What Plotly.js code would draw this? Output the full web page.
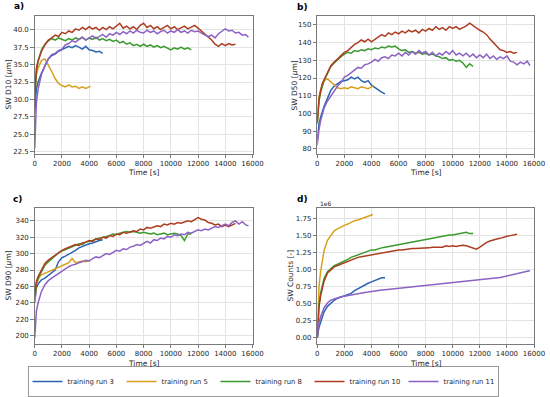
<!DOCTYPE html>
<html>
<head>
<meta charset="utf-8">
<script src="https://cdn.plot.ly/plotly-3.0.1.min.js"></script>
<style>html,body{margin:0;padding:0;background:#fff;}#chart{width:550px;height:397px;}</style>
</head>
<body>
<div id="chart"></div>
<script>
// ---------- DATA ----------
const runNames = ['training run 3', 'training run 5', 'training run 8', 'training run 10', 'training run 11'];
const runColors = ['#2b63b5', '#d7a01d', '#3b9a2f', '#ad3d20', '#8c62c4'];

// time [s] per run
const t3 = [0,50,125,250,375,500,750,1000,1250,1500,1750,2000,2250,2500,2750,3000,3250,3500,3750,4000,4250,4500,4750,5000];
const t5 = [0,50,125,250,375,500,750,1000,1250,1500,1750,2000,2250,2500,2750,3000,3250,3500,3750,4000,4100];
const t8 = [0,50,125,250,375,500,750,1000,1250,1500,1750,2000,2250,2500,2750,3000,3250,3500,3750,4000,4250,4500,4750,5000,5250,5500,5750,6000,6250,6500,6750,7000,7250,7500,7750,8000,8250,8500,8750,9000,9250,9500,9750,10000,10250,10500,10750,11000,11250,11500];
const t10 = [0,50,125,250,375,500,750,1000,1250,1500,1750,2000,2250,2500,2750,3000,3250,3500,3750,4000,4250,4500,4750,5000,5250,5500,5750,6000,6250,6500,6750,7000,7250,7500,7750,8000,8250,8500,8750,9000,9250,9500,9750,10000,10250,10500,10750,11000,11250,11500,11750,12000,12250,12500,12750,13000,13250,13500,13750,14000,14250,14500,14750];
const t11 = [0,50,125,250,375,500,750,1000,1250,1500,1750,2000,2250,2500,2750,3000,3250,3500,3750,4000,4250,4500,4750,5000,5250,5500,5750,6000,6250,6500,6750,7000,7250,7500,7750,8000,8250,8500,8750,9000,9250,9500,9750,10000,10250,10500,10750,11000,11250,11500,11750,12000,12250,12500,12750,13000,13250,13500,13750,14000,14250,14500,14750,15000,15250,15500,15700];

// a) SW D10 [um]
const d10_run3 = [28.0,30.0,31.5,32.5,33.2,33.8,34.8,35.8,36.3,36.5,36.9,37.1,37.3,37.6,37.4,37.7,37.5,37.2,37.6,37.1,37.0,36.8,36.9,36.6];
const d10_run5 = [30.5,32.0,33.5,34.5,35.2,35.6,35.8,35.0,34.0,33.0,32.3,32.0,31.8,32.1,31.8,31.9,31.6,31.8,31.6,31.8,31.9];
const d10_run8 = [30.0,32.0,34.0,35.5,36.5,37.1,37.9,38.4,38.7,38.5,38.8,38.6,38.4,38.7,38.5,38.8,38.6,38.9,38.5,38.8,38.6,38.9,38.5,38.7,38.4,38.6,38.3,38.5,38.1,38.3,37.9,38.1,37.7,37.9,37.6,37.9,37.6,37.8,37.5,37.7,37.4,37.6,37.3,37.1,37.4,37.2,37.5,37.2,37.4,37.1];
const d10_run10 = [30.5,32.5,34.5,35.5,36.3,36.9,37.8,38.5,38.8,39.2,39.0,39.6,39.4,39.8,39.6,40.1,39.9,40.3,40.0,40.4,40.1,40.3,39.9,40.3,40.0,40.4,40.1,40.5,40.9,40.2,40.5,40.1,40.4,40.0,40.6,40.9,40.3,40.6,40.1,40.4,40.0,40.3,40.6,40.1,40.4,40.0,40.3,40.5,40.1,40.4,40.6,40.2,39.8,39.3,38.9,38.5,37.9,37.6,38.0,37.7,38.0,37.8,37.9];
const d10_run11 = [23.0,26.5,29.5,31.5,32.8,33.6,34.8,35.8,36.4,36.6,37.0,37.2,37.8,38.0,38.4,38.2,38.6,38.9,38.5,38.8,39.1,38.7,39.0,39.3,38.9,39.4,39.2,39.6,39.3,39.7,39.4,39.8,39.5,39.9,39.6,39.5,39.9,39.6,39.8,39.4,39.7,39.9,39.5,39.8,39.6,40.0,39.6,39.8,39.5,39.9,39.7,39.8,39.5,39.3,39.0,39.2,38.8,39.4,39.7,40.1,39.8,39.9,39.5,39.6,39.2,39.3,38.9];

// b) SW D50 [um]
const d50_run3 = [85,89,94,98,101,104,108.5,113,115.5,117,118,118.5,119,120.5,119.5,120.5,118.5,117.5,118.5,116,114.5,113,112,111];
const d50_run5 = [96,103,109,113.5,116.5,118.5,119.5,118,116,114.5,114,114.5,114,115,114.5,114,115,114.5,114,115,115.5];
const d50_run8 = [94,100,107,112,116,118.5,122.5,126.5,128.5,130.5,132,133.5,134.5,134,135.5,135,136,135.5,136.5,136,137,136.5,137.5,137,138,137.5,138,136.5,135.5,136,134.5,135,134,134.5,133.5,134,133,133.5,132.5,132,131,131.5,130,130.5,129.5,130,128.5,126,128,126.5];
const d50_run10 = [95,101,108,113,117,119,123,127,129,131,132.5,134.5,135.5,137.5,139,140,141.5,140.5,142,140.5,142,143.5,144.5,143.5,145.5,144.5,146,145,146.5,145.5,147,146,147,145.5,147.5,146.5,148,147,149,147.5,148.5,147,149,148,149,147.5,148.5,149.5,151,149.5,148.5,147,146,144.5,142,140,137.5,136,135.5,134.5,135,134,134.5];
const d50_run11 = [82,86,91,96,100,103,107,110,113,115.5,117.5,120.5,121.5,123,124,126,125.5,127.5,128,129,130.5,129.5,131.5,132,131,133,132.5,134,132.5,134.5,133,135,133.5,135.5,134,135,133,134.5,132.5,134,133,135,133.5,135.5,133,134,132.5,134,132,133.5,131.5,133,131.5,133.5,131,132.5,130.5,132,131,132.5,129.5,129,127.5,129,128,129.5,127];

// c) SW D90 [um]
const d90_run3 = [240,250,258,263,266,268,270,273,276,280,290,295,297,299,301,304,307,309,310,312,313,315,316,317];
const d90_run5 = [240,255,263,268,272,274,276,277,279,281,283,285,287,289,294,289,290,291,290,292,292];
const d90_run8 = [245,255,264,270,274,279,286,290,294,298,301,303,305,307,309,310,312,311,314,315,316,318,319,320,321,322,324,323,325,326,327,326,327,326,325,326,325,324,325,323,324,325,323,324,325,324,322,316,324,324];
const d90_run10 = [248,258,266,272,276,281,288,292,295,299,302,304,306,308,309,311,310,313,314,316,315,318,317,320,319,322,321,324,323,326,325,327,328,327,330,329,332,331,333,334,333,336,335,337,336,338,337,339,340,339,342,344,342,341,338,337,335,336,333,335,333,335,337];
const d90_run11 = [197,215,230,240,248,254,262,267,270,273,276,279,281,284,286,287,289,290,292,291,294,296,295,298,300,299,302,304,303,306,305,308,309,311,310,313,315,313,317,316,319,318,321,320,323,322,324,323,326,325,327,329,328,330,329,331,333,332,334,336,334,338,340,336,339,335,334];

// d) SW Counts [-], in units of 1e6
const cnt_run3 = [0.0,0.08,0.15,0.23,0.31,0.38,0.46,0.51,0.55,0.58,0.60,0.62,0.63,0.65,0.69,0.72,0.75,0.78,0.80,0.82,0.84,0.86,0.88,0.88];
const cnt_run5 = [0.0,0.45,0.75,0.98,1.16,1.28,1.43,1.51,1.57,1.60,1.63,1.65,1.67,1.70,1.72,1.73,1.75,1.77,1.78,1.80,1.81];
const cnt_run8 = [0.0,0.27,0.48,0.66,0.78,0.87,0.97,1.02,1.06,1.08,1.10,1.13,1.15,1.18,1.20,1.22,1.23,1.25,1.27,1.29,1.29,1.31,1.32,1.33,1.34,1.35,1.36,1.37,1.38,1.39,1.40,1.41,1.42,1.43,1.44,1.45,1.46,1.47,1.48,1.48,1.49,1.50,1.51,1.51,1.52,1.53,1.54,1.55,1.53,1.53];
const cnt_run10 = [0.0,0.25,0.45,0.62,0.74,0.83,0.95,1.0,1.04,1.06,1.08,1.11,1.13,1.15,1.17,1.18,1.19,1.20,1.21,1.22,1.23,1.24,1.25,1.26,1.27,1.27,1.28,1.29,1.29,1.30,1.30,1.31,1.31,1.31,1.32,1.31,1.32,1.33,1.33,1.34,1.33,1.35,1.34,1.35,1.34,1.35,1.36,1.35,1.33,1.32,1.30,1.33,1.37,1.40,1.42,1.44,1.45,1.46,1.48,1.49,1.50,1.51,1.52];
const cnt_run11 = [0.0,0.12,0.22,0.31,0.38,0.44,0.51,0.55,0.57,0.59,0.60,0.61,0.62,0.63,0.645,0.655,0.66,0.665,0.67,0.68,0.685,0.69,0.70,0.705,0.71,0.715,0.72,0.73,0.735,0.74,0.745,0.75,0.76,0.765,0.77,0.775,0.78,0.785,0.79,0.79,0.795,0.80,0.805,0.81,0.815,0.82,0.83,0.835,0.84,0.845,0.85,0.85,0.855,0.86,0.87,0.875,0.88,0.885,0.895,0.905,0.915,0.925,0.94,0.95,0.96,0.975,0.985];

// tick labels
const xTicks = [0,2000,4000,6000,8000,10000,12000,14000,16000];
const yTicksA = [22.5,25.0,27.5,30.0,32.5,35.0,37.5,40.0];
const yTicksB = [80,90,100,110,120,130,140,150];
const yTicksC = [200,220,240,260,280,300,320,340];
const yTicksD = [0.00,0.25,0.50,0.75,1.00,1.25,1.50,1.75];

// ---------- BUILD ----------
const times = [t3, t5, t8, t10, t11];
const panels = [
  {xa: 'x',  ya: 'y',  series: [d10_run3, d10_run5, d10_run8, d10_run10, d10_run11]},
  {xa: 'x2', ya: 'y2', series: [d50_run3, d50_run5, d50_run8, d50_run10, d50_run11]},
  {xa: 'x3', ya: 'y3', series: [d90_run3, d90_run5, d90_run8, d90_run10, d90_run11]},
  {xa: 'x4', ya: 'y4', series: [cnt_run3, cnt_run5, cnt_run8, cnt_run10, cnt_run11]}
];
const traces = [];
panels.forEach((p, pi) => {
  p.series.forEach((vals, ri) => {
    traces.push({
      type: 'scatter', mode: 'lines',
      x: times[ri], y: vals,
      xaxis: p.xa, yaxis: p.ya,
      name: runNames[ri],
      legendgroup: runNames[ri],
      showlegend: pi === 0,
      line: {color: runColors[ri], width: 1.5}
    });
  });
});

const W = 550, H = 397;
const fx = px => px / W;
const fy = py => 1 - py / H;
const font = {family: 'DejaVu Sans, sans-serif', size: 7, color: '#262626'};

function xax(domain) {
  return {
    domain: domain, range: [0, 16000], tickvals: xTicks, ticktext: xTicks.map(String),
    showgrid: true, gridcolor: '#e3e3e3', gridwidth: 1,
    zeroline: false, showline: true, linecolor: '#7a7a7a', linewidth: 1, mirror: true,
    ticks: 'outside', ticklen: 3, tickcolor: '#7a7a7a', tickfont: font
  };
}
function yax(domain, range, tv, fmt) {
  return {
    domain: domain, range: range, tickvals: tv, ticktext: tv.map(v => v.toFixed(fmt)),
    showgrid: true, gridcolor: '#e3e3e3', gridwidth: 1,
    zeroline: false, showline: true, linecolor: '#7a7a7a', linewidth: 1, mirror: true,
    ticks: 'outside', ticklen: 3.5, tickcolor: '#7a7a7a', tickfont: font
  };
}

const xdL = [fx(34.7), fx(252.5)], xdR = [fx(317.3), fx(534)];
const ydT = [fy(154.5), fy(16)], ydB = [fy(345.5), fy(208.8)];

const titleFont = {family: 'DejaVu Sans, sans-serif', size: 7.5, color: '#262626'};
const labFont = {family: 'DejaVu Sans, sans-serif', size: 9, color: '#000'};
function ann(text, x, y, f, angle, xa, ya) {
  return {text: text, x: x, y: y, xref: 'paper', yref: 'paper', showarrow: false,
          font: f, textangle: angle || 0, xanchor: xa || 'center', yanchor: ya || 'middle'};
}

const layout = {
  width: W, height: H,
  margin: {l: 0, r: 0, t: 0, b: 0},
  paper_bgcolor: '#fff', plot_bgcolor: '#fff',
  showlegend: true,
  legend: {
    orientation: 'h', x: fx(263), y: fy(383.5), xanchor: 'center', yanchor: 'middle',
    bordercolor: '#9a9a9a', borderwidth: 1, bgcolor: '#fff',
    font: {family: 'DejaVu Sans, sans-serif', size: 6.8, color: '#262626'},
    entrywidth: 49, entrywidthmode: 'pixels', tracegroupgap: 0, itemwidth: 30
  },
  xaxis: xax(xdL), yaxis: yax(ydT, [22.25, 41.95], yTicksA, 1),
  xaxis2: Object.assign(xax(xdR), {anchor: 'y2'}), yaxis2: Object.assign(yax(ydT, [77.2, 155.1], yTicksB, 0), {anchor: 'x2'}),
  xaxis3: Object.assign(xax(xdL), {anchor: 'y3'}), yaxis3: Object.assign(yax(ydB, [190, 356], yTicksC, 0), {anchor: 'x3'}),
  xaxis4: Object.assign(xax(xdR), {anchor: 'y4'}), yaxis4: Object.assign(yax(ydB, [-0.09, 1.91], yTicksD, 2), {anchor: 'x4'}),
  annotations: [
    ann('<b>a)</b>', fx(12), fy(6), labFont, 0, 'left'),
    ann('<b>b)</b>', fx(295), fy(7), labFont, 0, 'left'),
    ann('<b>c)</b>', fx(11), fy(200), labFont, 0, 'left'),
    ann('<b>d)</b>', fx(295), fy(200), labFont, 0, 'left'),
    ann('SW D10 [<i>μ</i>m]', fx(9), fy(85), titleFont, -90),
    ann('SW D50 [<i>μ</i>m]', fx(295), fy(86), titleFont, -90),
    ann('SW D90 [<i>μ</i>m]', fx(9), fy(277), titleFont, -90),
    ann('SW Counts [-]', fx(291), fy(277), titleFont, -90),
    ann('Time [s]', fx(143.5), fy(173.5), titleFont),
    ann('Time [s]', fx(425.5), fy(173.5), titleFont),
    ann('Time [s]', fx(143.5), fy(365), titleFont),
    ann('Time [s]', fx(425.5), fy(365), titleFont),
    ann('1e6', fx(318), fy(205), {family: 'DejaVu Sans, sans-serif', size: 6, color: '#262626'}, 0, 'left')
  ]
};

Plotly.newPlot('chart', traces, layout, {displayModeBar: false, staticPlot: true});
</script>
</body>
</html>
